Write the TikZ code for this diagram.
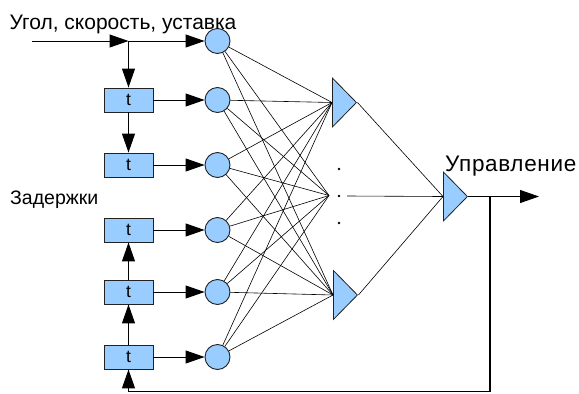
\documentclass[tikz,border=0pt]{standalone}
\usepackage{fontspec}
\setmainfont{Liberation Sans}
\usetikzlibrary{arrows.meta,shapes.geometric}
\definecolor{cellblue}{HTML}{99CCFF}
\definecolor{edge}{HTML}{222222}
\begin{document}
\begin{tikzpicture}[x=1pt,y=-1pt,
  neuron/.style={circle,draw=edge,fill=cellblue,line width=0.9pt,minimum size=25pt,inner sep=0pt},
  delaybox/.style={rectangle,draw=edge,fill=cellblue,line width=0.9pt,minimum width=49pt,minimum height=24pt,inner sep=0pt,font=\fontsize{17.5}{17.5}\selectfont},
  summer/.style={isosceles triangle,isosceles triangle stretches,draw=edge,fill=cellblue,line width=0.8pt,minimum width=49pt,minimum height=24pt,inner sep=0pt,anchor=west},
  flow/.style={line width=1pt,-{Triangle[length=19pt,width=13pt]}},
  wire/.style={line width=0.6pt},
  heading/.style={font=\fontsize{21}{21}\selectfont,anchor=base west,inner sep=0pt},
  dotmark/.style={circle,fill=black,minimum size=2.6pt,inner sep=0pt}
]
\useasboundingbox (0,0) rectangle (579,394);

% input neurons and delay line
\node[neuron] (c1) at (217.5,41) {};
\node[neuron] (c2) at (217.5,100) {};
\node[neuron] (c3) at (217.5,165) {};
\node[neuron] (c4) at (217.5,230) {};
\node[neuron] (c5) at (217.5,292) {};
\node[neuron] (c6) at (217.5,357) {};

\node[delaybox] (b1) at (128.5,100) {t};
\node[delaybox] (b2) at (128.5,165) {t};
\node[delaybox] (b3) at (128.5,230) {t};
\node[delaybox] (b4) at (128.5,292) {t};
\node[delaybox] (b5) at (128.5,357) {t};

% hidden and output summing units
\node[summer] (h1) at (332,102.5) {};
\node[summer] (h2) at (333,295) {};
\node[summer] (o) at (443,196.5) {};

\node[dotmark] (d1) at (339,169) {};
\node[dotmark] (d2) at (339,196) {};
\node[dotmark] (d3) at (339,223) {};

\coordinate (m) at (329,195.5);
\coordinate (mtail) at (347,196);
\coordinate (in) at (32,41);
\coordinate (j) at (128.5,41);
\coordinate (k) at (490,196.5);
\coordinate (out) at (539,196.5);
\coordinate (fb) at (128.5,391.5);

% texts
\node[heading] (title) at (9.5,29) {Угол, скорость, уставка};
\node[heading,font=\fontsize{22.5}{22.5}\selectfont\addfontfeature{LetterSpace=3.0}] (ctrl) at (445,171) {Управление};
\node[heading,font=\fontsize{19.5}{19.5}\selectfont] (delays) at (10,204) {Задержки};

% input and delay arrows
\draw[flow] (in) -- (j);
\draw[flow] (j) -- (c1);
\draw[flow] (j) -- (b1);
\draw[flow] (b1) -- (b2);
\draw[flow] (b5) -- (b4);
\draw[flow] (b4) -- (b3);
\draw[flow] (b1) -- (c2);
\draw[flow] (b2) -- (c3);
\draw[flow] (b3) -- (c4);
\draw[flow] (b4) -- (c5);
\draw[flow] (b5) -- (c6);

% fully connected layer
\foreach \c in {c1,c2,c3,c4,c5,c6}{
  \draw[wire] (\c) -- (h1.west);
  \draw[wire] (\c) -- (m);
  \draw[wire] (\c) -- (h2.west);
}
\draw[wire] (h1.east) -- (o.west);
\draw[wire] (h2.east) -- (o.west);
\draw[wire] (mtail) -- (o.west);

% output and feedback
\draw[flow] (o.east) -- (out);
\draw[line width=1.2pt,-{Triangle[length=19pt,width=13pt]}] (k) |- (fb) -- (b5.south);
\end{tikzpicture}
\end{document}
